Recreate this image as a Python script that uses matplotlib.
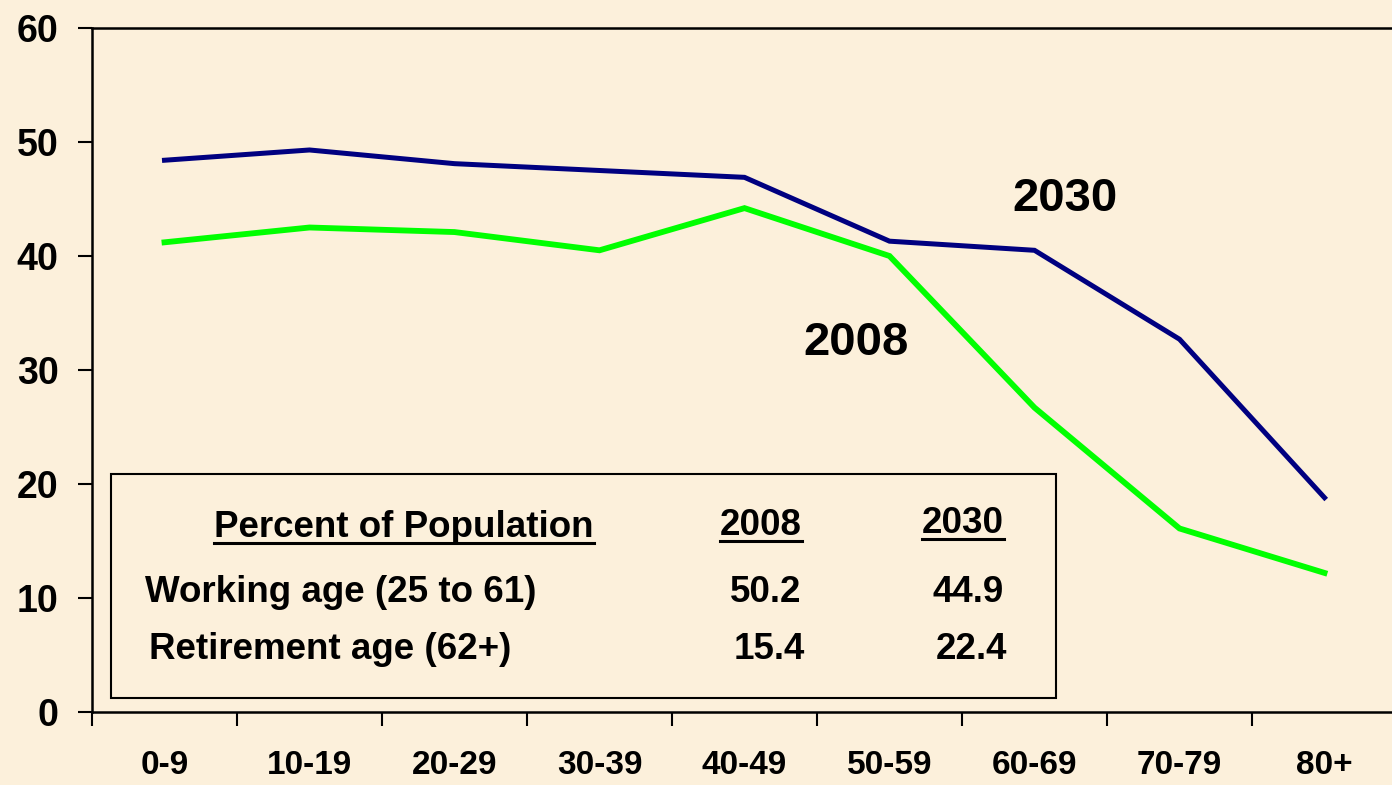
import matplotlib
matplotlib.use("Agg")
import matplotlib.pyplot as plt
from matplotlib.lines import Line2D
from matplotlib.patches import Rectangle
from matplotlib.transforms import IdentityTransform

plt.rcParams['font.family'] = ['Liberation Sans', 'DejaVu Sans']
plt.rcParams['font.weight'] = 'bold'

age_groups = ['0-9', '10-19', '20-29', '30-39', '40-49', '50-59', '60-69', '70-79', '80+']
pct_2030 = [48.4, 49.3, 48.1, 47.5, 46.9, 41.3, 40.5, 32.7, 18.8]
pct_2008 = [41.2, 42.5, 42.1, 40.5, 44.2, 40.0, 26.7, 16.1, 12.2]

table_header = ['Percent of Population', '2008', '2030']
table_rows = ['Working age (25 to 61)', 'Retirement age (62+)']
table_2008 = ['50.2', '15.4']
table_2030 = ['44.9', '22.4']

W, H = 1392, 785
bg = '#FCF0DB'

fig = plt.figure(figsize=(W / 100, H / 100), dpi=100, facecolor=bg)
ax = fig.add_axes([92 / W, 1 - 712 / H, (1397 - 92) / W, (712 - 28) / H])
ax.set_facecolor(bg)

x = list(range(len(age_groups)))
ax.plot(x, pct_2030, color='#000080', lw=3.6, solid_joinstyle='miter')
ax.plot(x, pct_2008, color='#00FF00', lw=4.2, solid_joinstyle='miter')

ax.set_xlim(-0.5, 8.5)
ax.set_ylim(0, 60)
ax.set_yticks(range(0, 61, 10))
ax.set_xticks([i - 0.5 for i in range(len(age_groups) + 1)])
ax.set_xticklabels([])
ax.set_xticks(x, minor=True)
ax.set_xticklabels(age_groups, minor=True)
ax.tick_params(axis='x', which='major', length=10, width=1.5, direction='out')
ax.tick_params(axis='x', which='minor', length=0, pad=27, labelsize=24)
ax.tick_params(axis='y', length=10, width=1.5, direction='out', pad=14, labelsize=27)
for s in ['left', 'bottom', 'top']:
    ax.spines[s].set_linewidth(1.8)
ax.spines['right'].set_visible(False)

ax.text(6.21, 45.0, '2030', fontsize=34, fontweight='bold', ha='center', va='center')
ax.text(4.77, 32.35, '2008', fontsize=34, fontweight='bold', ha='center', va='center')


def px(xp, yp):
    return xp / W, 1 - yp / H


fig.add_artist(Rectangle(px(111, 698), (1056 - 111) / W, (698 - 474) / H,
                         transform=fig.transFigure, fill=False, ec='black', lw=1.5))

fs = 26.5
underlined = []
underlined.append(fig.text(*px(404, 537), table_header[0], fontsize=fs, ha='center', va='baseline'))
underlined.append(fig.text(*px(761, 535), table_header[1], fontsize=fs, ha='center', va='baseline'))
underlined.append(fig.text(*px(963, 533), table_header[2], fontsize=fs, ha='center', va='baseline'))

row_y = [602, 659]
row_x = [145, 149]
x2008 = [801, 805]
x2030 = [1004, 1007]
for i in range(len(table_rows)):
    fig.text(*px(row_x[i], row_y[i]), table_rows[i], fontsize=fs, ha='left', va='baseline')
    fig.text(*px(x2008[i], row_y[i]), table_2008[i], fontsize=fs, ha='right', va='baseline')
    fig.text(*px(x2030[i], row_y[i]), table_2030[i], fontsize=fs, ha='right', va='baseline')

fig.canvas.draw()
r = fig.canvas.get_renderer()
for t in underlined:
    bb = t.get_window_extent(r)
    yb = t.get_position()[1] * H - 6
    fig.add_artist(Line2D([bb.x0, bb.x1], [yb, yb], transform=IdentityTransform(),
                          color='black', lw=2.2))

fig.savefig('out.png', dpi=100, facecolor=bg)
